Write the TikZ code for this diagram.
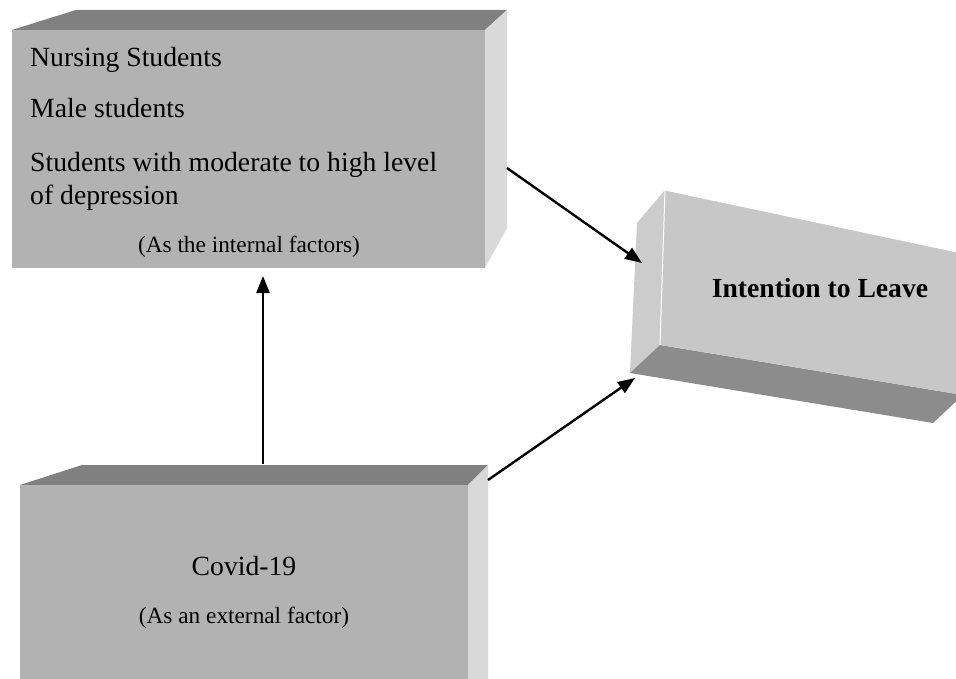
\documentclass[tikz,border=0pt]{standalone}
\usepackage{fontspec}
\setmainfont{Liberation Serif}
\usetikzlibrary{arrows.meta}
\definecolor{frontgray}{gray}{0.70}
\definecolor{topgray}{gray}{0.50}
\definecolor{sidegray}{gray}{0.85}
\definecolor{leavefront}{gray}{0.78}
\definecolor{leaveside}{gray}{0.80}
\definecolor{leavebottom}{gray}{0.55}
\begin{document}
\begin{tikzpicture}[x=1pt,y=-1pt,
    boxtext/.style={inner sep=0pt,anchor=base west,font=\fontsize{27.7}{33}\selectfont},
    note/.style={inner sep=0pt,anchor=base,font=\fontsize{23.3}{28}\selectfont},
    link/.style={line width=2.4pt,-{Triangle[length=17pt,width=13pt]}}]
		\clip (0,0) rectangle (956,679);
		% internal factors
		\fill[topgray] (12,30) -- (76,10) -- (507,10) -- (485,30) -- cycle;
		\fill[sidegray] (485,30) -- (507,10) -- (507,228) -- (485,268) -- cycle;
		\fill[frontgray] (12,30) rectangle (485,268);
		% external factor
		\fill[topgray] (20,485) -- (82,465) -- (488,465) -- (468,485) -- cycle;
		\fill[sidegray] (468,485) -- (488,465) -- (488,690) -- (468,690) -- cycle;
		\fill[frontgray] (20,485) rectangle (468,690);
		% intention to leave
		\fill[leaveside] (637,223) -- (665,190) -- (660,345) -- (630,373) -- cycle;
		\fill[leavebottom] (630,373) -- (660,345) -- (963,395) -- (933,423) -- cycle;
		\fill[leavefront] (665,190) -- (990,259) -- (963,395) -- (660,345) -- cycle;
		\draw[white,line width=1pt] (660,345) -- (665,190) -- (990,259);
		\node[boxtext] (nursing) at (30,67) {Nursing Students};
		\node[boxtext] (male) at (30,118) {Male students};
		\node[boxtext] (depr) at (30,172) {Students with moderate to high level};
		\node[boxtext] (deprb) at (30,205) {of depression};
		\node[note] (internal) at (249,253) {(As the internal factors)};
		\node[note,font=\fontsize{27.7}{33}\selectfont] (covid) at (244,575) {Covid-19};
		\node[note] (external) at (244,623) {(As an external factor)};
		\node[note,font=\fontsize{27.6}{33}\selectfont\bfseries] (leave) at (820,297) {Intention to Leave};
		\coordinate (intout) at (507,168);
		\coordinate (intin) at (263,276);
		\coordinate (extup) at (263,464);
		\coordinate (extout) at (488,480);
		\coordinate (leavetop) at (642,263);
		\coordinate (leavebot) at (635,378);
		\draw[link] (intout) -- (leavetop);
		\draw[link] (extout) -- (leavebot);
		\draw[link] (extup) -- (intin);
  \end{tikzpicture}
\end{document}
